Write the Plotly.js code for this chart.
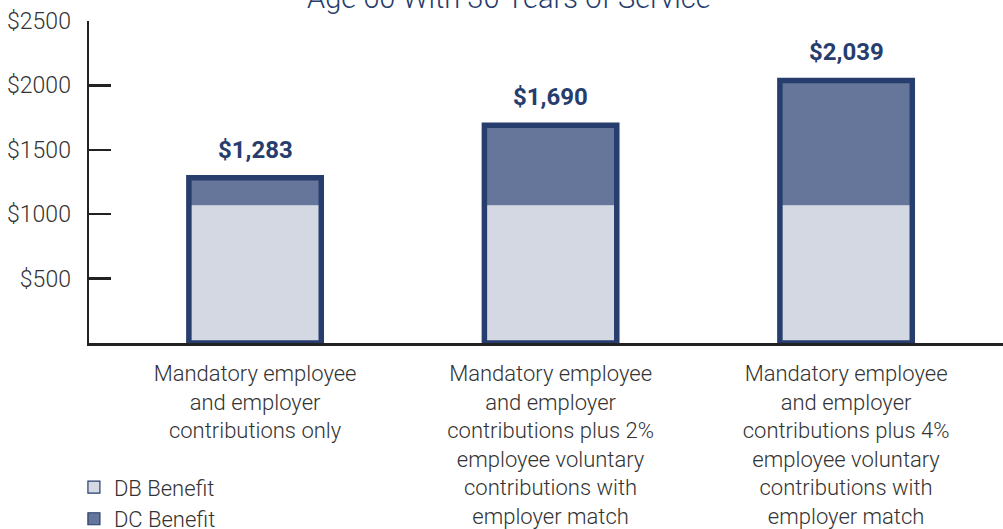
<!DOCTYPE html>
<html>
<head>
<meta charset="utf-8">
<script src="https://cdn.plot.ly/plotly-3.0.1.min.js"></script>
<style>html,body{margin:0;padding:0;background:#fff;}#chart{width:1003px;height:529px;}</style>
</head>
<body>
<div id="chart"></div>
<script>
const categories = [
  "Mandatory employee<br>and employer<br>contributions only",
  "Mandatory employee<br>and employer<br>contributions plus 2%<br>employee voluntary<br>contributions with<br>employer match",
  "Mandatory employee<br>and employer<br>contributions plus 4%<br>employee voluntary<br>contributions with<br>employer match"
];
const dbBenefit = [1070, 1070, 1070];
const dcBenefit = [213, 620, 969];
const totals = [1283, 1690, 2039];
const totalLabels = ["$1,283", "$1,690", "$2,039"];
const yTickVals = [500, 1000, 1500, 2000, 2500];
const yTickText = ["$500", "$1000", "$1500", "$2000", "$2500"];

const NAVY = "#263d6e";
const DB_COL = "#d4d8e2";
const DC_COL = "#66769a";
const FONT = "Roboto, 'DejaVu Sans Condensed', sans-serif";
const idx = categories.map((c, i) => i);
const BW = 0.448;

const traces = [
  {type: "bar", x: idx, y: dbBenefit, width: BW, marker: {color: DB_COL, line: {width: 0}}, showlegend: false, hoverinfo: "skip"},
  {type: "bar", x: idx, y: dcBenefit, base: dbBenefit, width: BW, marker: {color: DC_COL, line: {width: 0}}, showlegend: false, hoverinfo: "skip"},
  {type: "bar", x: idx, y: totals, width: BW, marker: {color: "rgba(0,0,0,0)", line: {width: 5.5, color: NAVY}}, showlegend: false, hoverinfo: "skip"},
  {type: "bar", x: [null], y: [null], name: "DB Benefit", marker: {color: DB_COL, line: {width: 1.2, color: NAVY}}},
  {type: "bar", x: [null], y: [null], name: "DC Benefit", marker: {color: DC_COL, line: {width: 1.2, color: NAVY}}}
];

const annotations = idx.map(i => ({
  x: i, y: totals[i], xref: "x", yref: "y", text: "<b>" + totalLabels[i] + "</b>",
  showarrow: false, yanchor: "bottom", yshift: 12,
  font: {family: FONT, size: 24, color: NAVY}
}));
annotations.push({
  x: 0.4595, y: 1, xref: "paper", yref: "paper", yanchor: "bottom", yshift: 4,
  text: "Age 60 With 30 Years of Service", showarrow: false,
  font: {family: FONT, size: 29, color: NAVY, weight: 300}
});

const layout = {
  width: 1003, height: 529,
  margin: {l: 89, r: 0, t: 21, b: 186, pad: 0, autoexpand: false},
  paper_bgcolor: "#fff", plot_bgcolor: "#fff",
  barmode: "overlay",
  font: {family: FONT, color: "#333", size: 22},
  xaxis: {
    range: [-0.562, 2.531], tickmode: "array", tickvals: idx, ticktext: categories,
    showline: true, linecolor: "#222", linewidth: 2.5, ticks: "", showgrid: false, zeroline: false,
    ticklabelstandoff: 9, automargin: false,
    tickfont: {family: FONT, size: 22, color: "#333", weight: 300}, fixedrange: true
  },
  yaxis: {
    range: [0, 2500], tickmode: "array", tickvals: yTickVals, ticktext: yTickText,
    showline: true, linecolor: "#222", linewidth: 2.5, ticks: "inside", ticklen: 22, tickwidth: 2.5, tickcolor: "#222",
    showgrid: false, zeroline: false, ticklabelstandoff: 11, automargin: false,
    tickfont: {family: FONT, size: 23, color: "#333", weight: 300}, fixedrange: true
  },
  legend: {
    x: -0.0165, xanchor: "left", y: -0.383, yanchor: "top", orientation: "v",
    font: {family: FONT, size: 22, color: "#333", weight: 300}, bgcolor: "rgba(0,0,0,0)", tracegroupgap: 0
  },
  annotations: annotations,
  showlegend: true
};

Plotly.newPlot("chart", traces, layout, {displayModeBar: false, staticPlot: true});
</script>
</body>
</html>
